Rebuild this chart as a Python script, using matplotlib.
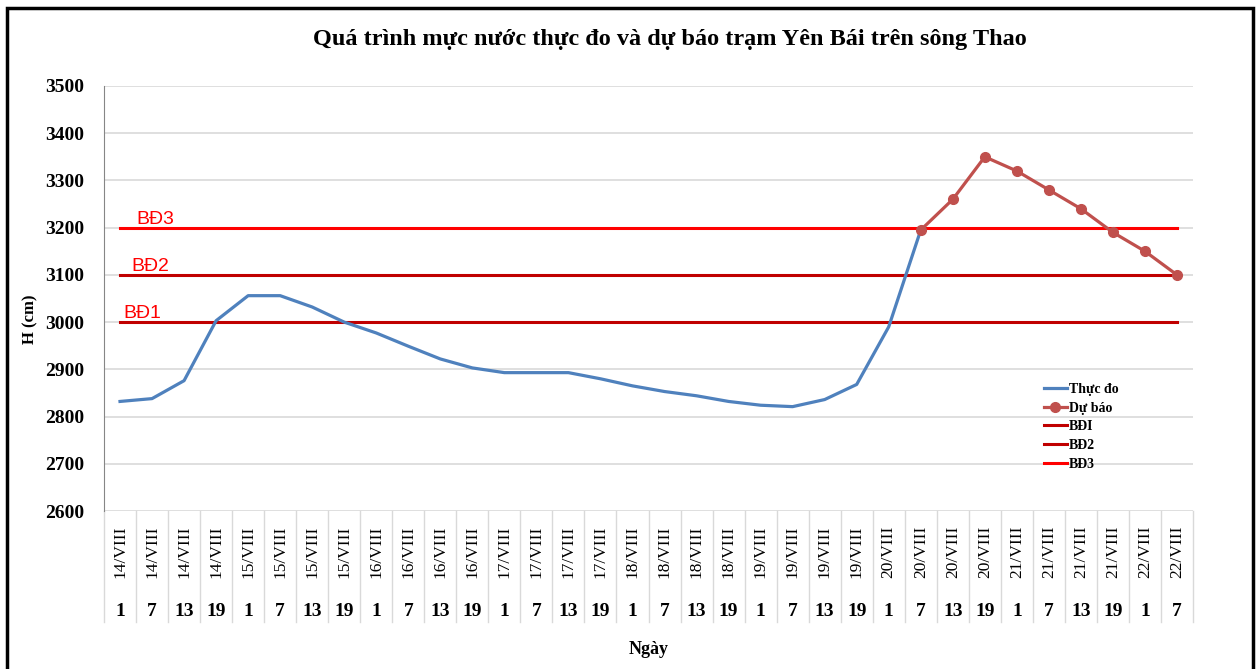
import matplotlib
matplotlib.use("Agg")
import matplotlib.pyplot as plt
from matplotlib.patches import Rectangle

# Data
dates = ["14/VIII"] * 4 + ["15/VIII"] * 4 + ["16/VIII"] * 4 + ["17/VIII"] * 4 + \
        ["18/VIII"] * 4 + ["19/VIII"] * 4 + ["20/VIII"] * 4 + ["21/VIII"] * 4 + ["22/VIII"] * 2
hours = ["1", "7", "13", "19"] * 8 + ["1", "7"]

observed = [2832, 2838, 2876, 3003, 3056, 3056, 3032, 3000, 2977, 2949,
            2922, 2903, 2893, 2893, 2893, 2880, 2865, 2853, 2844, 2832,
            2824, 2821, 2836, 2868, 2990, 3195]
forecast = [3195, 3260, 3350, 3320, 3280, 3240, 3190, 3150, 3100]
forecast_start = 25

levels = {"BĐI": 3000, "BĐ2": 3100, "BĐ3": 3200}
level_text = ["BĐ1", "BĐ2", "BĐ3"]
level_colors = ["#C00000", "#C00000", "#FF0000"]

serif = "Liberation Serif"

fig = plt.figure(figsize=(12.59, 6.69), dpi=100)
ax = fig.add_axes([104 / 1259, 1 - 511 / 669, 1089 / 1259, 425 / 669])

n = len(dates)
x = list(range(n))

ax.plot(x[:len(observed)], observed, color="#4F81BD", lw=2.3, label="Thực đo", zorder=4)
ax.plot(x[forecast_start:forecast_start + len(forecast)], forecast, color="#C0504D", lw=2.3,
        marker="o", markersize=7, label="Dự báo", zorder=5)

for (name, val), col in zip(levels.items(), level_colors):
    ax.plot([x[0], x[-1]], [val, val], color=col, lw=2.2, label=name, zorder=3)

# threshold labels
for txt, val, xpos in zip(level_text, levels.values(), [0.12, 0.34, 0.5]):
    ax.text(xpos, val + 18, txt, color="#FF0000", fontsize=14, family="Liberation Sans",
            ha="left", va="center")

ax.set_xlim(-0.5, n - 0.5)
ax.set_ylim(2600, 3500)
ax.set_yticks(range(2600, 3501, 100))
ax.grid(axis="y", color="#D9D9D9", lw=1.2)
ax.set_axisbelow(True)
for s in ["top", "right", "bottom"]:
    ax.spines[s].set_visible(False)
ax.spines["left"].set_color("#868686")
ax.tick_params(axis="y", length=0, pad=14)
for lab in ax.get_yticklabels():
    lab.set_fontfamily(serif)
    lab.set_fontweight("bold")
    lab.set_fontsize(14)
ax.set_xticks([])

# category table below the axis
trans = ax.get_xaxis_transform()
for i in range(n + 1):
    ax.plot([i - 0.5, i - 0.5], [0, -0.261], transform=trans, color="#D9D9D9", lw=1, clip_on=False)
for i in range(n):
    ax.text(i, -0.097, dates[i], transform=trans, rotation=90, ha="center", va="center",
            fontsize=12.5, family=serif)
    ax.text(i, -0.236, hours[i], transform=trans, ha="center", va="center",
            fontsize=14, family=serif, fontweight="bold")

ax.text(0.5, -0.327, "Ngày", transform=ax.transAxes, ha="center", va="center",
        fontsize=13, family=serif, fontweight="bold")
ax.text(-0.068, 0.45, "H (cm)", transform=ax.transAxes, rotation=90, ha="center", va="center",
        fontsize=12, family=serif, fontweight="bold")

fig.text(0.532, 1 - 40 / 669, "Quá trình mực nước thực đo và dự báo trạm Yên Bái trên sông Thao",
         ha="center", va="center", fontsize=17.5, family=serif, fontweight="bold")

leg = ax.legend(loc="upper left", bbox_to_anchor=(0.8577, 0.315), frameon=False,
                prop={"family": serif, "weight": "bold", "size": 10},
                handlelength=1.65, handletextpad=0.2, labelspacing=0.42, borderaxespad=0)

# figure border
fig.patches.append(Rectangle((7 / 1259, -0.05), 1246 / 1259, 1.05 - 8 / 669,
                             transform=fig.transFigure, fill=False, edgecolor="black", lw=2.5))

fig.savefig("out.png", dpi=100)
